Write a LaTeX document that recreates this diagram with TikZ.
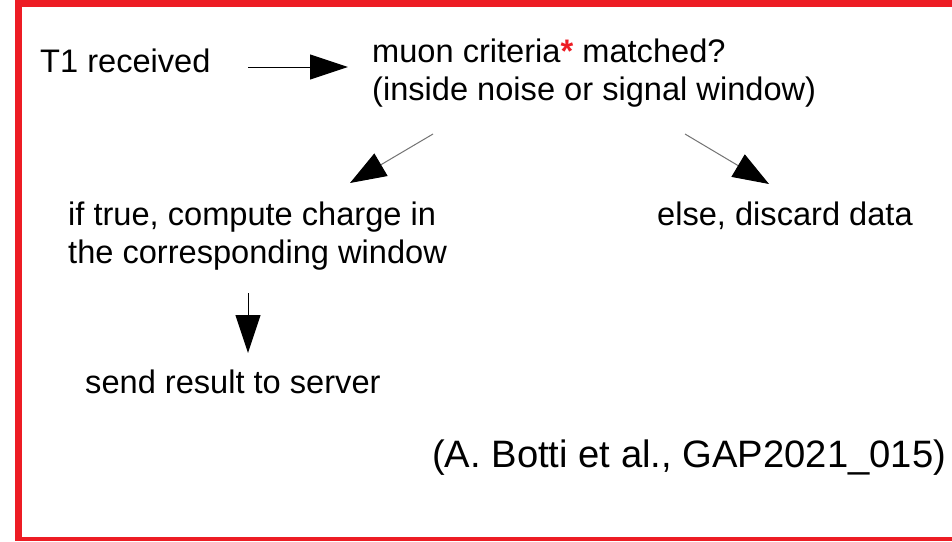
\documentclass[tikz,border=0pt]{standalone}
\usepackage{fontspec}
\setmainfont{Liberation Sans}
\usetikzlibrary{arrows.meta}
\definecolor{framered}{RGB}{237,28,36}
\begin{document}
\begin{tikzpicture}[x=1pt,y=-1pt,
  lbl/.style={anchor=base west, inner sep=0pt, font=\fontsize{32.6}{38}\selectfont},
  cite/.style={anchor=base west, inner sep=0pt, font=\fontsize{38.2}{44}\selectfont},
  flow/.style={line width=1pt, -{Triangle[length=38pt,width=25pt]}},
  slant/.style={line width=1pt, draw=black!55, -{Triangle[length=36pt,width=26pt,color=black]}}]
\useasboundingbox (0,0) rectangle (952,541);
\fill[white] (0,0) rectangle (952,541);
% red frame, open on the right
\fill[framered] (15,0) rectangle (952,7);
\fill[framered] (15,0) rectangle (22,541);
\fill[framered] (15,537) rectangle (952,541);

% texts
\node[lbl] (t1) at (40,72) {T1 received};
\node[lbl] (crit) at (372,62) {\begin{tabular}[t]{@{}l@{}}muon criteria{\color{framered}\textbf{*}} matched?\\(inside noise or signal window)\end{tabular}};
\node[lbl] (yes) at (68,225) {\begin{tabular}[t]{@{}l@{}}if true, compute charge in\\the corresponding window\end{tabular}};
\node[lbl] (no) at (657,225) {else, discard data};
\node[lbl] (send) at (85,393) {send result to server};
\node[cite] (ref) at (432,467) {(A. Botti et al., GAP2021\_015)};

% connector end points
\coordinate (a1s) at (248,67);
\coordinate (a1e) at (348,67);
\coordinate (a2s) at (433,134);
\coordinate (a2e) at (350,183);
\coordinate (a3s) at (685,134);
\coordinate (a3e) at (769,184);
\coordinate (a4s) at (248,293);
\coordinate (a4e) at (248,353);

\draw[flow] (a1s) -- (a1e);
\draw[slant] (a2s) -- (a2e);
\draw[slant] (a3s) -- (a3e);
\draw[flow] (a4s) -- (a4e);
\end{tikzpicture}
\end{document}
